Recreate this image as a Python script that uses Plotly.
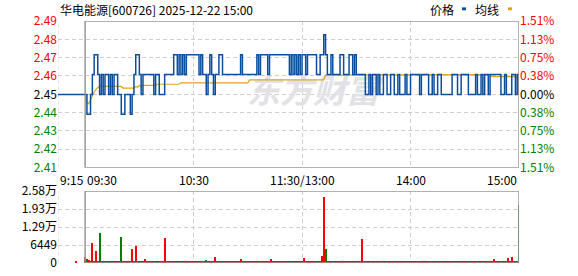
import plotly.graph_objects as go

# ---------------- data ----------------
stock_title = "华电能源[600726] 2025-12-22 15:00"
prev_close = 2.45

auction_minute = -15          # 9:15 call auction start
auction_price = 2.45
auction_vol_minute = -5       # 9:25
auction_volume = 450

# one value per trading minute, 09:30 (0) .. 15:00 (240)
price = [
    2.45, 2.44, 2.44, 2.45, 2.46, 2.47, 2.47, 2.46, 2.45, 2.46,
    2.45, 2.46, 2.46, 2.45, 2.46, 2.45, 2.46, 2.46, 2.45, 2.45,
    2.44, 2.44, 2.45, 2.45, 2.45, 2.44, 2.45, 2.46, 2.47, 2.47,
    2.46, 2.45, 2.46, 2.46, 2.46, 2.46, 2.46, 2.46, 2.45, 2.46,
    2.46, 2.45, 2.45, 2.45, 2.46, 2.46, 2.46, 2.46, 2.46, 2.47,
    2.47, 2.46, 2.47, 2.46, 2.47, 2.46, 2.47, 2.47, 2.47, 2.47,
    2.47, 2.47, 2.47, 2.46, 2.47, 2.46, 2.46, 2.45, 2.46, 2.47,
    2.46, 2.45, 2.46, 2.46, 2.47, 2.47, 2.46, 2.46, 2.46, 2.46,
    2.46, 2.46, 2.46, 2.46, 2.46, 2.46, 2.47, 2.46, 2.46, 2.46,
    2.46, 2.46, 2.46, 2.46, 2.46, 2.47, 2.46, 2.47, 2.47, 2.47,
    2.47, 2.46, 2.47, 2.47, 2.47, 2.47, 2.47, 2.47, 2.47, 2.47,
    2.47, 2.47, 2.47, 2.46, 2.47, 2.46, 2.47, 2.46, 2.47, 2.46,
    2.47, 2.47, 2.46, 2.47, 2.47, 2.47, 2.47, 2.47, 2.46, 2.46,
    2.47, 2.47, 2.48, 2.47, 2.46, 2.46, 2.47, 2.46, 2.46, 2.46,
    2.46, 2.47, 2.47, 2.46, 2.46, 2.46, 2.47, 2.47, 2.46, 2.47,
    2.46, 2.46, 2.46, 2.46, 2.46, 2.45, 2.45, 2.46, 2.45, 2.46,
    2.46, 2.45, 2.46, 2.45, 2.45, 2.46, 2.46, 2.45, 2.45, 2.46,
    2.46, 2.45, 2.45, 2.46, 2.45, 2.45, 2.45, 2.46, 2.45, 2.45,
    2.46, 2.46, 2.46, 2.46, 2.46, 2.45, 2.46, 2.46, 2.46, 2.46,
    2.45, 2.45, 2.46, 2.45, 2.45, 2.46, 2.46, 2.45, 2.45, 2.45,
    2.45, 2.45, 2.45, 2.46, 2.46, 2.46, 2.45, 2.45, 2.46, 2.46,
    2.46, 2.46, 2.45, 2.45, 2.45, 2.45, 2.46, 2.45, 2.45, 2.46,
    2.45, 2.46, 2.46, 2.45, 2.46, 2.46, 2.46, 2.46, 2.46, 2.46,
    2.45, 2.45, 2.46, 2.45, 2.45, 2.45, 2.46, 2.46, 2.45, 2.46,
    2.45,
]

volume = [
    2200, 1500, 1150, 450, 7100, 800, 4300, 450, 10900, 400,
    400, 450, 400, 400, 450, 400, 400, 450, 400, 400,
    9200, 400, 450, 400, 400, 450, 5000, 400, 6000, 800,
    400, 450, 400, 1500, 400, 400, 450, 400, 400, 450,
    400, 400, 450, 400, 8800, 800, 400, 450, 400, 400,
    450, 800, 400, 400, 450, 400, 400, 450, 400, 400,
    450, 400, 400, 450, 400, 400, 450, 1150, 400, 400,
    450, 400, 2200, 400, 450, 400, 400, 450, 400, 400,
    450, 400, 400, 450, 400, 400, 1500, 800, 400, 450,
    400, 800, 450, 400, 400, 450, 400, 400, 450, 400,
    400, 450, 400, 1500, 400, 450, 400, 400, 450, 400,
    400, 450, 400, 400, 450, 400, 400, 450, 400, 400,
    450, 1850, 400, 400, 450, 400, 400, 450, 400, 400,
    450, 2550, 23800, 5000, 400, 450, 400, 400, 450, 400,
    400, 450, 400, 400, 450, 400, 400, 450, 400, 400,
    450, 400, 400, 8500, 400, 450, 400, 400, 450, 400,
    400, 450, 400, 400, 450, 400, 400, 450, 400, 400,
    450, 400, 400, 450, 400, 400, 450, 400, 400, 450,
    400, 400, 450, 400, 400, 450, 400, 400, 450, 400,
    400, 450, 400, 400, 450, 400, 400, 450, 400, 400,
    450, 400, 400, 450, 400, 400, 450, 400, 400, 450,
    400, 400, 450, 800, 400, 450, 400, 400, 450, 400,
    400, 450, 400, 400, 450, 400, 1500, 400, 450, 400,
    400, 450, 400, 400, 1850, 400, 2200, 400, 450, 400,
    20700,
]

# average price line, read at its break points (minute, value)
avg_minutes = [0, 1, 2, 3, 4, 5, 6, 7, 8, 20, 21, 27, 28, 29, 30, 31, 32,
               39, 40, 52, 53, 90, 91, 132, 133, 224, 225, 238, 239, 240]
avg_values = [2.4500, 2.4460, 2.4453, 2.4475, 2.4499, 2.4512, 2.4524, 2.4535,
              2.4540, 2.4540, 2.4532, 2.4532, 2.4540, 2.4536, 2.4545, 2.4541,
              2.4545, 2.4545, 2.4551, 2.4551, 2.4558, 2.4558, 2.4573, 2.4573,
              2.4597, 2.4600, 2.4589, 2.4589, 2.4585, 2.4581]

pct_levels = [-1.51, -1.13, -0.75, -0.38, 0.00, 0.38, 0.75, 1.13, 1.51]
price_labels = ["2.41", "2.42", "2.43", "2.44", "2.45", "2.46", "2.47", "2.48", "2.49"]

vol_ticks = [0, 6449, 12898, 19347, 25796]
vol_labels = ["0", "6449", "1.29万", "1.93万", "2.58万"]

time_ticks = [-15, 0, 60, 120, 180, 240]
time_labels = ["9:15", "09:30", "10:30", "11:30/13:00", "14:00", "15:00"]
time_anchor = ["left", "left", "center", "center", "center", "right"]

watermark = "东方财富"

# ---------------- styles ----------------
FONT = "Noto Sans CJK SC"
UP = "#ff0000"
DOWN = "#008000"
FLAT = "#000000"
PRICE_C = "#0a4f9f"
AVG_C = "#e3a21a"
GRID = "#cfcfcf"
BOX = "#999999"
WM = "#e2e2e6"

minutes = list(range(len(price)))
lo = prev_close * (1 + pct_levels[0] / 100)
hi = prev_close * (1 + pct_levels[-1] / 100)
tickvals = [prev_close * (1 + p / 100) for p in pct_levels]


def col(p):
    return UP if p > 0 else (DOWN if p < 0 else FLAT)


left_text = [f"<span style='color:{col(p)}'>{t}</span>" for p, t in zip(pct_levels, price_labels)]
right_text = [f"<span style='color:{col(p)}'>{abs(p):.2f}%</span>" for p in pct_levels]

bar_colors = []
last = auction_price
for p in price:
    bar_colors.append(UP if p >= last else DOWN)
    last = p

fig = go.Figure()

# watermark behind data
fig.add_trace(go.Scatter(
    x=[126], y=[prev_close], mode="text", text=[watermark],
    textfont=dict(family=FONT, size=33, color=WM, weight="bold", style="italic"),
    hoverinfo="skip", showlegend=False, xaxis="x", yaxis="y"))

fig.add_trace(go.Scatter(
    x=avg_minutes, y=avg_values, mode="lines",
    line=dict(color=AVG_C, width=1.2), xaxis="x", yaxis="y"))

fig.add_trace(go.Scatter(
    x=[auction_minute] + minutes, y=[auction_price] + price, mode="lines",
    line=dict(color=PRICE_C, width=1.5, shape="hv"), xaxis="x", yaxis="y"))

# dummy trace so right axis is drawn
fig.add_trace(go.Scatter(x=[0], y=[prev_close], mode="markers",
                         marker=dict(opacity=0), hoverinfo="skip",
                         xaxis="x", yaxis="y3"))

fig.add_trace(go.Bar(
    x=[auction_vol_minute] + minutes, y=[auction_volume] + volume,
    marker=dict(color=[UP] + bar_colors, line=dict(width=0)),
    width=0.6, xaxis="x2", yaxis="y2"))

grid_common = dict(showgrid=True, gridcolor=GRID, griddash="4px,3px", gridwidth=1,
                   zeroline=False, showline=False, ticks="")

price_dom = [98 / 249, 1.0]
vol_dom = [0.0, 74 / 249]

fig.update_layout(
    width=578, height=276,
    margin=dict(l=58, r=59, t=21, b=6),
    paper_bgcolor="white", plot_bgcolor="white",
    showlegend=False,
    font=dict(family=FONT, size=12, color="#000"),
    xaxis=dict(domain=[0, 1], range=[-15, 240], anchor="y", tickvals=time_ticks[:-1],
               showticklabels=False, **grid_common),
    xaxis2=dict(domain=[0, 1], range=[-15, 240], anchor="y2", matches="x",
                tickvals=time_ticks[:-1], showticklabels=False, **grid_common),
    yaxis=dict(domain=price_dom, range=[lo, hi], tickvals=tickvals, ticktext=left_text,
               anchor="x", tickfont=dict(family=FONT, size=12), **grid_common),
    yaxis3=dict(overlaying="y", side="right", range=[lo, hi], tickvals=tickvals,
                ticktext=right_text, anchor="x", showgrid=False, zeroline=False,
                showline=False, ticks="", tickfont=dict(family=FONT, size=12)),
    yaxis2=dict(domain=vol_dom, range=[0, vol_ticks[-1]], tickvals=vol_ticks,
                ticktext=vol_labels, anchor="x2", tickfont=dict(family=FONT, size=12),
                **grid_common),
    bargap=0,
)

# dashed edge gridline at 9:15 in both panels
fig.add_shape(type="line", xref="x", yref="y", x0=time_ticks[0], x1=time_ticks[0],
              y0=lo, y1=hi, line=dict(color=GRID, width=1, dash="4px,3px"), layer="below")
fig.add_shape(type="line", xref="x2", yref="y2", x0=time_ticks[0], x1=time_ticks[0],
              y0=0, y1=vol_ticks[-1], line=dict(color=GRID, width=1, dash="4px,3px"),
              layer="below")

# panel boxes (09:30 - 15:00)
fig.add_shape(type="rect", xref="x", yref="y", x0=0, x1=240, y0=lo, y1=hi,
              line=dict(color=BOX, width=1.5), layer="above")
fig.add_shape(type="rect", xref="x2", yref="y2", x0=0, x1=240, y0=0, y1=vol_ticks[-1],
              line=dict(color=BOX, width=1.5), layer="above")

# time labels
for t, lab, anc in zip(time_ticks, time_labels, time_anchor):
    fig.add_annotation(x=t, xref="x", y=price_dom[0], yref="paper", text=lab,
                       showarrow=False, xanchor=anc, yanchor="top", yshift=-1,
                       font=dict(family=FONT, size=12, color="#000"))

# title
fig.add_annotation(x=0, xref="paper", y=1, yref="paper", yshift=12, text=stock_title,
                   showarrow=False, xanchor="left", yanchor="middle",
                   font=dict(family=FONT, size=12, color="#000"))


def px_x(px):
    return (px - 58) / 461


def px_y(py):
    return (270 - py) / 249


# legend
fig.add_annotation(x=px_x(456), xref="paper", y=px_y(9), yref="paper", text="价格",
                   showarrow=False, xanchor="right", yanchor="middle",
                   font=dict(family=FONT, size=12, color="#000"))
fig.add_shape(type="rect", xref="paper", yref="paper", x0=px_x(462), x1=px_x(466),
              y0=px_y(10), y1=px_y(7), line=dict(width=0), fillcolor=PRICE_C)
fig.add_annotation(x=px_x(501), xref="paper", y=px_y(9), yref="paper", text="均线",
                   showarrow=False, xanchor="right", yanchor="middle",
                   font=dict(family=FONT, size=12, color="#000"))
fig.add_shape(type="rect", xref="paper", yref="paper", x0=px_x(508), x1=px_x(512),
              y0=px_y(10), y1=px_y(7), line=dict(width=0), fillcolor=AVG_C)

fig.write_html("out.html")
